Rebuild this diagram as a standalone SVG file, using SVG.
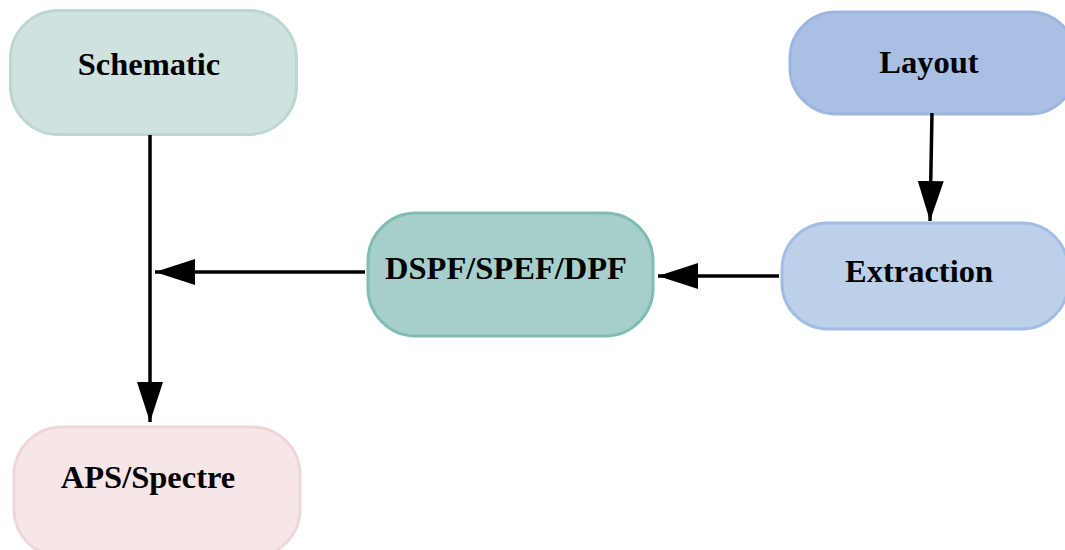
<svg xmlns="http://www.w3.org/2000/svg" width="1065" height="550" viewBox="0 0 1065 550">
<style>
.n{stroke-width:3}
.t{font-family:"Liberation Serif","Times New Roman",serif;font-weight:bold;font-size:32.5px;fill:#000;text-anchor:middle}
.c{stroke:#000;stroke-width:3.5;fill:none;marker-end:url(#ah)}
</style>
<defs>
<marker id="ah" markerUnits="userSpaceOnUse" markerWidth="42" markerHeight="26" refX="40" refY="13" orient="auto" viewBox="0 0 42 26">
<path d="M0,0 L40,13 L0,26 Z" fill="#000"/>
</marker>
</defs>
<rect width="1065" height="550" fill="#fff"/>
<g id="schematic">
<rect class="n" x="10.5" y="10.5" width="286" height="124" rx="48" fill="#cfe2e0" stroke="#bcd7d3"/>
<text class="t" x="149" y="75">Schematic</text>
</g>
<g id="layout">
<rect class="n" x="790" y="12" width="286" height="102" rx="46" fill="#a9c0e4" stroke="#9db6e0"/>
<text class="t" x="929" y="73">Layout</text>
</g>
<g id="extraction">
<rect class="n" x="782" y="223" width="286" height="106" rx="46" fill="#bcd0ea" stroke="#a2bde3"/>
<text class="t" x="919" y="282">Extraction</text>
</g>
<g id="dspf">
<rect class="n" x="368" y="213" width="285" height="123" rx="48" fill="#a6cfcb" stroke="#7fbdb3"/>
<text class="t" x="506" y="279">DSPF/SPEF/DPF</text>
</g>
<g id="aps">
<rect class="n" x="14" y="427" width="286" height="130" rx="48" fill="#f6e6e7" stroke="#f0d6d8"/>
<text class="t" x="148" y="488">APS/Spectre</text>
</g>
<g id="connectors">
<path class="c" d="M150,135 L150,422"/>
<path class="c" d="M932,113 L930,221"/>
<path class="c" d="M365,272 L155,272"/>
<path class="c" d="M779,276 L658,276"/>
</g>
</svg>
